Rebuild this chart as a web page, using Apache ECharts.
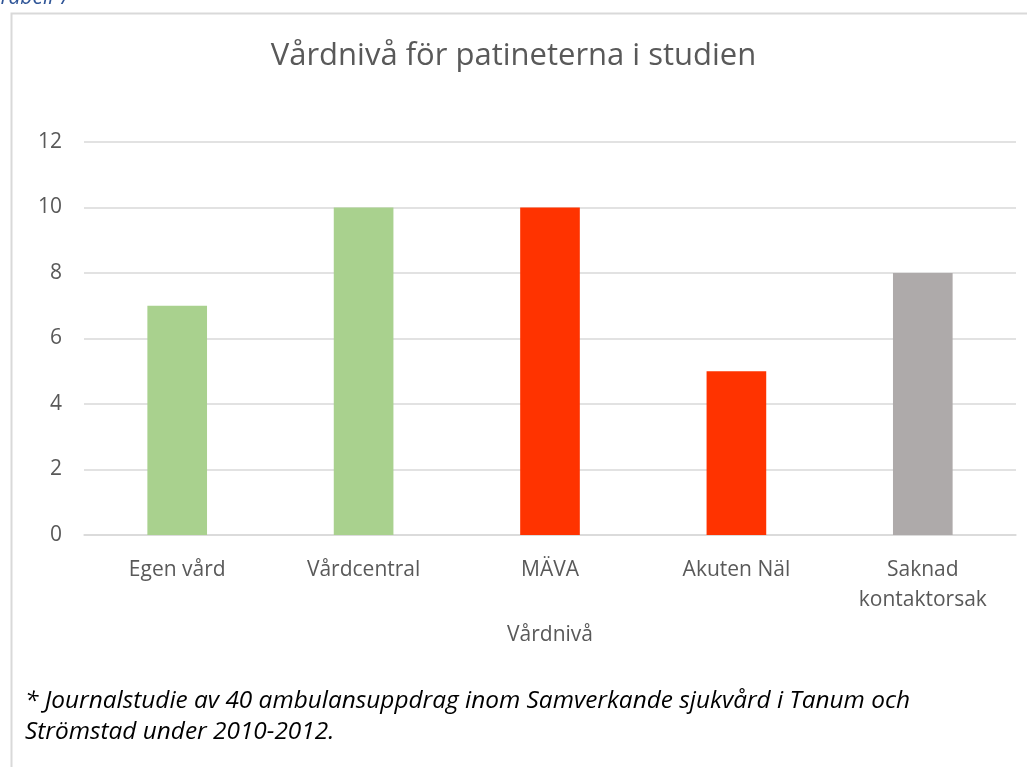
<!DOCTYPE html>
<html>
<head>
<meta charset="utf-8">
<script src="https://cdn.jsdelivr.net/npm/echarts@6/dist/echarts.min.js"></script>
<style>
  html, body { margin: 0; padding: 0; background: #fff; }
  #main { width: 1027px; height: 767px; }
</style>
</head>
<body>
<div id="main"></div>
<script>
var categories = ['Egen vård', 'Vårdcentral', 'MÄVA', 'Akuten Näl', 'Saknad\nkontaktorsak'];
var values = [7, 10, 10, 5, 8];
var barColors = ['#A9D18E', '#A9D18E', '#FF3300', '#FF3300', '#AEAAAA'];
var yTicks = [0, 2, 4, 6, 8, 10, 12];

var font = 'Open Sans';
var chart = echarts.init(document.getElementById('main'));

var option = {
  animation: false,
  backgroundColor: '#fff',
  title: {
    text: 'Vårdnivå för patineterna i studien',
    left: 'center',
    top: 36,
    textStyle: { fontFamily: font, fontSize: 31, fontWeight: 'normal', color: '#595959' }
  },
  grid: { left: 84, right: 11, top: 142, bottom: 232 },
  xAxis: {
    type: 'category',
    data: categories,
    name: 'Vårdnivå',
    nameLocation: 'middle',
    nameGap: 90,
    nameTextStyle: { fontFamily: font, fontSize: 21, color: '#595959' },
    axisLine: { lineStyle: { color: '#D9D9D9', width: 1.5 } },
    axisTick: { show: false },
    axisLabel: {
      fontFamily: font, fontSize: 21, color: '#595959', margin: 20, lineHeight: 30, interval: 0
    }
  },
  yAxis: {
    type: 'value',
    min: yTicks[0],
    max: yTicks[yTicks.length - 1],
    interval: 2,
    axisLine: { show: false },
    axisTick: { show: false },
    splitLine: { lineStyle: { color: '#D9D9D9', width: 1.5 } },
    axisLabel: { fontFamily: font, fontSize: 21, color: '#595959', margin: 22 }
  },
  series: [{
    type: 'bar',
    barWidth: '32%',
    data: values.map(function (v, i) {
      return { value: v, itemStyle: { color: barColors[i] } };
    })
  }],
  graphic: [
    {
      type: 'rect', left: 9, top: 11, silent: true,
      shape: { width: 1030, height: 770 },
      style: { fill: 'none', stroke: '#D9D9D9', lineWidth: 2 }
    },
    {
      type: 'text', x: -2, y: 9,
      style: { text: 'Tabell 7', font: 'italic 21px "Open Sans"', fill: '#2F5597', textVerticalAlign: 'bottom' }
    },
    {
      type: 'text', left: 25, top: 686,
      style: {
        text: '* Journalstudie av 40 ambulansuppdrag inom Samverkande sjukvård i Tanum och\nStrömstad under 2010-2012.',
        font: 'italic 24.4px "Open Sans"', fill: '#000', lineHeight: 31
      }
    }
  ]
};
chart.setOption(option);
</script>
</body>
</html>
